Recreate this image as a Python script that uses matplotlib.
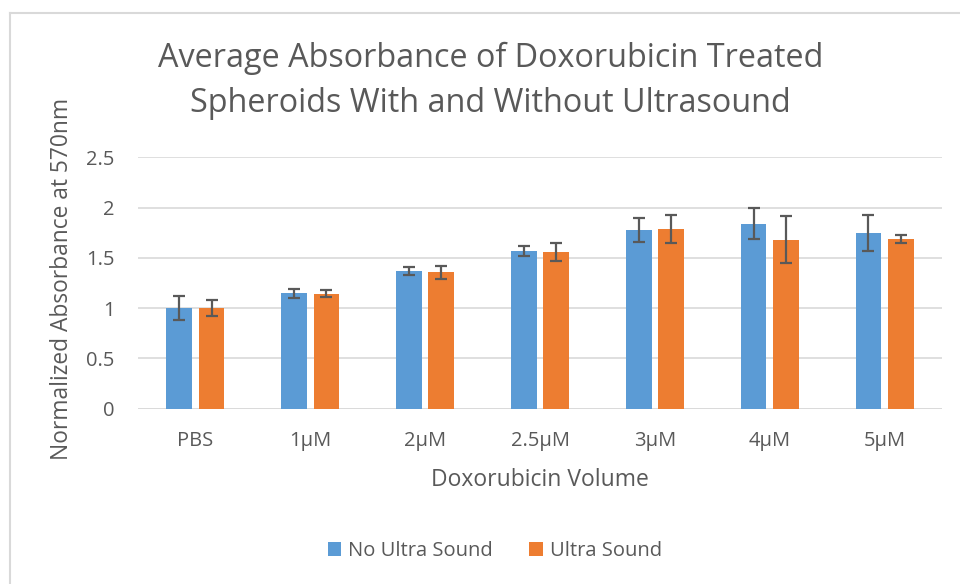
import matplotlib
matplotlib.use("Agg")
import matplotlib.pyplot as plt
from matplotlib.lines import Line2D
from matplotlib.patches import Patch
import numpy as np

categories = ["PBS", "1μM", "2μM", "2.5μM", "3μM", "4μM", "5μM"]
no_us = [1.00, 1.15, 1.37, 1.57, 1.78, 1.84, 1.75]
no_us_err = [0.12, 0.045, 0.037, 0.05, 0.12, 0.157, 0.18]
us = [1.00, 1.145, 1.355, 1.56, 1.785, 1.68, 1.685]
us_err = [0.077, 0.035, 0.065, 0.088, 0.14, 0.232, 0.04]
yticks = [0, 0.5, 1, 1.5, 2, 2.5]
ytick_labels = ["0", "0.5", "1", "1.5", "2", "2.5"]

plt.rcParams['font.family'] = ['Open Sans', 'DejaVu Sans']
text_color = "#595959"
blue = "#5B9BD5"
orange = "#ED7D31"
grid_color = "#D9D9D9"
err_color = "#595959"

W, H = 960, 584
fig = plt.figure(figsize=(W / 100, H / 100), dpi=100)
ax = fig.add_axes([138 / W, 1 - 408.7 / H, (942 - 138) / W, (408.7 - 157.3) / H])

x = np.arange(len(categories))
bw = 0.224
off = 0.141
ax.bar(x - off, no_us, width=bw, color=blue, zorder=3)
ax.bar(x + off, us, width=bw, color=orange, zorder=3)
ax.errorbar(x - off, no_us, yerr=no_us_err, fmt='none', ecolor=err_color,
            elinewidth=1.6, capsize=4.3, capthick=1.6, zorder=4)
ax.errorbar(x + off, us, yerr=us_err, fmt='none', ecolor=err_color,
            elinewidth=1.6, capsize=4.3, capthick=1.6, zorder=4)

ax.set_xlim(-0.5, len(categories) - 0.5)
ax.set_ylim(0, 2.5)
ax.set_yticks(yticks)
ax.set_yticklabels(ytick_labels)
ax.set_xticks(x)
ax.set_xticklabels(categories)
ax.tick_params(axis='both', length=0, labelsize=14.5, colors=text_color)
ax.tick_params(axis='y', pad=17)
ax.tick_params(axis='x', pad=16)
ax.yaxis.grid(True, color=grid_color, linewidth=1.2, zorder=0)
ax.set_axisbelow(True)
for s in ax.spines.values():
    s.set_visible(False)
ax.axhline(0, color=grid_color, linewidth=1.2, zorder=1)

fig.text(62 / W, 1 - 279 / H, "Normalized Absorbance at 570nm", rotation=90,
         ha='center', va='center', fontsize=16.4, color=text_color)
fig.text(540 / W, 1 - 480 / H, "Doxorubicin Volume", ha='center', va='center',
         fontsize=16.5, color=text_color)

fig.text(491 / W, 1 - 58 / H, "Average Absorbance of Doxorubicin Treated",
         ha='center', va='center', fontsize=23.3, color=text_color)
fig.text(490 / W, 1 - 104 / H, "Spheroids With and Without Ultrasound",
         ha='center', va='center', fontsize=23.3, color=text_color)

handles = [Patch(facecolor=blue), Patch(facecolor=orange)]
fig.legend(handles, ["No Ultra Sound", "Ultra Sound"], loc='center',
           bbox_to_anchor=(495 / W, 1 - 551 / H), ncol=2, frameon=False,
           fontsize=14.5, labelcolor=text_color, handlelength=0.65,
           handleheight=0.65, handletextpad=0.35, columnspacing=1.8)

# chart border
fig.add_artist(Line2D([10 / W, 1], [1 - 13 / H, 1 - 13 / H], color=grid_color,
                      linewidth=1.5, transform=fig.transFigure))
fig.add_artist(Line2D([10 / W, 10 / W], [1 - 13 / H, 0], color=grid_color,
                      linewidth=1.5, transform=fig.transFigure))

fig.savefig("out.png", dpi=100)
